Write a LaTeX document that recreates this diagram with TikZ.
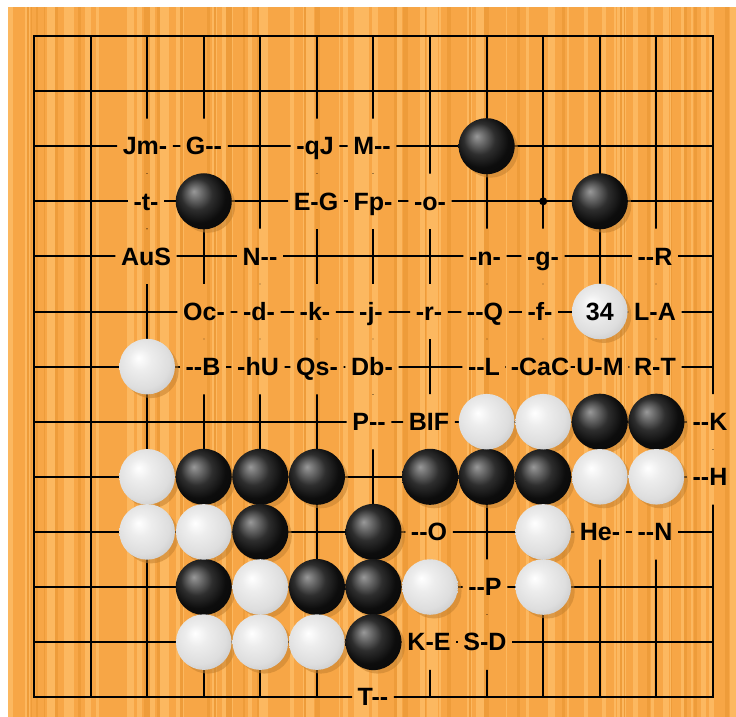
\documentclass[tikz,border=0pt]{standalone}
\usepackage{fontspec}
\newfontfamily\lblfont{Liberation Sans}[Ligatures=TeXOff]
\definecolor{board}{HTML}{F7A646}
\definecolor{stripeL}{HTML}{FCB860}
\definecolor{stripeD}{HTML}{EE9C3A}
\definecolor{shadowc}{HTML}{C4812F}
\pgfdeclareradialshading{blackstone}{\pgfpoint{-9bp}{9bp}}{color(0bp)=(black!40);color(5bp)=(black!55);color(14bp)=(black!82);color(24bp)=(black!95);color(50bp)=(black)}
\pgfdeclareradialshading{whitestone}{\pgfpoint{-8bp}{8bp}}{color(0bp)=(white);color(10bp)=(white!93!black);color(24bp)=(white!87!black);color(33bp)=(white!78!black);color(50bp)=(white!75!black)}
\tikzset{
  lbl/.style={font=\lblfont\bfseries\fontsize{25}{30}\selectfont, inner xsep=5.5pt, inner ysep=0pt, text height=17.5pt, text depth=0pt, minimum height=55pt},
  gridline/.style={line width=2pt, black, line cap=rect},
  bstone/.style={shading=blackstone},
  wstone/.style={shading=whitestone},
  stoneshadow/.style={fill=shadowc, opacity=0.55},
}
\def\labels{%
a1/145/2/Jm-, a2/204/2/G--, a3/315/2/-qJ, a4/372/2/M--,%
b1/146/3/-t-, b2/316/3/E-G, b3/373/3/Fp-, b4/430/3/-o-,%
c1/146/4/AuS, c2/260/4/N--, c3/485/4/-n-, c4/543/4/-g-, c5/655/4/--R,%
d1/204/5/Oc-, d2/259/5/-d-, d3/315/5/-k-, d4/371/5/-j-, d5/429/5/-r-, d6/485/5/--Q, d7/540/5/-f-, d8/655/5/L-A,%
e1/203/6/--B, e2/258/6/-hU, e3/317/6/Qs-, e4/372/6/Db-, e5/484/6/--L, e6/540/6/-CaC, e7/600/6/U-M, e8/655/6/R-T,%
f1/369/7/P--, f2/429/7/BIF, f3/710/7/--K,%
g1/710/8/--H,%
h1/429/9/--O, h2/600/9/He-, h3/655/9/--N,%
i1/485/10/--P,%
j1/429/11/K-E, j2/485/11/S-D,%
k1/373/12/T--}
\def\blacks{8/2,3/3,10/3,10/7,11/7,3/8,4/8,5/8,7/8,8/8,9/8,4/9,6/9,3/10,5/10,6/10,6/11}
\def\whites{10/5,2/6,8/7,9/7,2/8,10/8,11/8,2/9,3/9,9/9,4/10,7/10,9/10,3/11,4/11,5/11}
\begin{document}
\begin{tikzpicture}[x=1pt,y=-1pt]
\useasboundingbox (0,0) rectangle (736,717);
\fill[white] (0,0) rectangle (736,717);
\fill[board] (8,7) rectangle (736,717);
\begin{scope}
\clip (8,7) rectangle (736,717);
\pgfmathsetseed{4242}
\foreach \i in {1,...,80}{
  \pgfmathsetmacro\sx{8+728*rnd}
  \pgfmathsetmacro\sw{1.5+5*rnd}
  \fill[stripeL] (\sx,7) rectangle ++(\sw,710);
}
\foreach \i in {1,...,40}{
  \pgfmathsetmacro\sx{8+728*rnd}
  \pgfmathsetmacro\sw{1+3*rnd}
  \fill[stripeD] (\sx,7) rectangle ++(\sw,710);
}
\end{scope}
% labels
\foreach \n/\x/\r/\t in \labels {
  \node[lbl] (\n) at (\x,{36+55.1*\r}) {\t};
}
% grid, clipped around the labels
\begin{scope}[even odd rule]
\clip (-10,-10) rectangle (750,730)
  \foreach \n/\x/\r/\t in \labels {(\n.south west) rectangle (\n.north east)};
\foreach \i in {0,...,12}{
  \draw[gridline] ({34+56.58*\i},36) -- ({34+56.58*\i},697.2);
  \draw[gridline] (34,{36+55.1*\i}) -- (713,{36+55.1*\i});
}
\end{scope}
% hoshi
\fill[black] ({34+56.58*9},{36+55.1*3}) circle (4pt);
% shadows
\foreach \c/\r in \blacks {\fill[stoneshadow] ({34+56.58*\c+4},{36+55.1*\r+4}) circle (27.5pt);}
\foreach \c/\r in \whites {\fill[stoneshadow] ({34+56.58*\c+4},{36+55.1*\r+4}) circle (27.5pt);}
% stones
\foreach \c/\r in \blacks {\shade[bstone] ({34+56.58*\c},{36+55.1*\r}) circle (28pt);}
\foreach \c/\r in \whites {\shade[wstone] ({34+56.58*\c},{36+55.1*\r}) circle (27.8pt);}
\node[lbl] (n34) at ({34+56.58*10},{36+55.1*5}) {34};
\end{tikzpicture}
\end{document}
